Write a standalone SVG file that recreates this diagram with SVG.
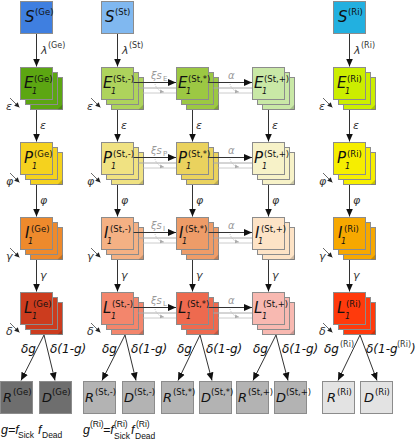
<svg xmlns="http://www.w3.org/2000/svg" width="417" height="440" viewBox="0 0 417 440">
<style>
.bx{stroke:#8c8c8c;stroke-width:1}
.lt{font-family:"DejaVu Sans",Verdana,sans-serif;font-style:italic;font-size:15px;fill:#111}
.sp{font-family:"DejaVu Sans",Verdana,sans-serif;font-size:8.5px;fill:#111}
.sb{font-family:"DejaVu Sans",Verdana,sans-serif;font-style:italic;font-size:8px;fill:#111}
.rl{font-family:"DejaVu Sans",Verdana,sans-serif;font-style:italic;font-size:13px;fill:#111}
.lb{font-family:"DejaVu Sans",Verdana,sans-serif;font-style:italic;font-size:11px;fill:#333}
.lbs{font-family:"DejaVu Sans",Verdana,sans-serif;font-size:8px;fill:#333}
.dl{font-family:"DejaVu Sans",Verdana,sans-serif;font-style:italic;font-size:12px;fill:#111}
.fm{font-family:"Liberation Sans",Arial,sans-serif;font-style:italic;font-size:12.5px;fill:#111}
.fs{font-family:"Liberation Sans",Arial,sans-serif;font-size:8.5px;fill:#111}
.gy{font-family:"DejaVu Sans",Verdana,sans-serif;font-style:italic;font-size:10px;fill:#999}
.gys{font-family:"DejaVu Sans",Verdana,sans-serif;font-size:7px;fill:#999}
.ar{stroke:#333;stroke-width:1;fill:none;marker-end:url(#ah)}
.sm{stroke:#444;stroke-width:0.8;fill:none;marker-end:url(#sh)}
.gl{stroke:#aaa;stroke-width:1;fill:none}
.gl2{stroke:#ccc;stroke-width:1;fill:none}
.gc{stroke:#aaa;stroke-width:0.7;fill:none;stroke-dasharray:1 1;marker-end:url(#gh)}
</style>
<defs>
<marker id="ah" markerUnits="userSpaceOnUse" markerWidth="8" markerHeight="8" refX="8" refY="4" orient="auto"><path d="M0,0.5 L8,4 L0,7.5 z" fill="#111"/></marker>
<marker id="sh" markerUnits="userSpaceOnUse" markerWidth="5" markerHeight="5" refX="5" refY="2.5" orient="auto"><path d="M0,0 L5,2.5 L0,5 z" fill="#222"/></marker>
<marker id="gh" markerUnits="userSpaceOnUse" markerWidth="4" markerHeight="4" refX="4" refY="2" orient="auto"><path d="M0,0 L4,2 L0,4 z" fill="#aaa"/></marker>
<g id="stk">
<rect x="10" y="10" width="32" height="32"/>
<path d="M37,42 L42,37 L42,42 z" fill="#000" fill-opacity="0.18" stroke="none"/>
<rect x="5" y="5" width="32" height="32"/>
<rect x="0" y="0" width="32" height="32"/>
</g>
</defs>
<rect width="417" height="440" fill="#fff"/>

<!-- S nodes -->
<g id="S-Ge"><rect class="bx" x="20.5" y="1.5" width="32" height="32" fill="#3f7fe0"/><text class="lt" x="25" y="22">S</text><text class="sp" x="35" y="15">(Ge)</text></g>
<g id="S-St"><rect class="bx" x="101.5" y="1.5" width="32" height="32" fill="#80b8f0"/><text class="lt" x="105" y="22">S</text><text class="sp" x="115" y="15">(St)</text></g>
<g id="S-Ri"><rect class="bx" x="333.5" y="1.5" width="32" height="32" fill="#22b0e0"/><text class="lt" x="338" y="22">S</text><text class="sp" x="348" y="15">(Ri)</text></g>

<!-- E row -->
<g id="E-Ge"><use href="#stk" class="bx" x="20.5" y="67.5" fill="#5ca612"/><text class="lt" x="24" y="88">E</text><text class="sb" x="32" y="94">1</text><text class="sp" x="34" y="82">(Ge)</text></g>
<g id="E-Stm"><use href="#stk" class="bx" x="101.5" y="67.5" fill="#aed35c"/><text class="lt" x="103" y="88">E</text><text class="sb" x="111" y="94">1</text><text class="sp" x="113" y="82">(St,-)</text></g>
<g id="E-Sts"><use href="#stk" class="bx" x="176.5" y="67.5" fill="#9cc843"/><text class="lt" x="178" y="88">E</text><text class="sb" x="186" y="94">1</text><text class="sp" x="188" y="82">(St,*)</text></g>
<g id="E-Stp"><use href="#stk" class="bx" x="252.5" y="67.5" fill="#c9e8a6"/><text class="lt" x="254" y="88">E</text><text class="sb" x="262" y="94">1</text><text class="sp" x="264" y="82">(St,+)</text></g>
<g id="E-Ri"><use href="#stk" class="bx" x="333.5" y="67.5" fill="#ccee00"/><text class="lt" x="337" y="88">E</text><text class="sb" x="345" y="94">1</text><text class="sp" x="347" y="82">(Ri)</text></g>

<!-- P row -->
<g id="P-Ge"><use href="#stk" class="bx" x="20.5" y="142.5" fill="#f5d21e"/><text class="lt" x="24" y="163">P</text><text class="sb" x="32" y="169">1</text><text class="sp" x="34" y="157">(Ge)</text></g>
<g id="P-Stm"><use href="#stk" class="bx" x="101.5" y="142.5" fill="#f0e282"/><text class="lt" x="103" y="163">P</text><text class="sb" x="111" y="169">1</text><text class="sp" x="113" y="157">(St,-)</text></g>
<g id="P-Sts"><use href="#stk" class="bx" x="176.5" y="142.5" fill="#ead25e"/><text class="lt" x="178" y="163">P</text><text class="sb" x="186" y="169">1</text><text class="sp" x="188" y="157">(St,*)</text></g>
<g id="P-Stp"><use href="#stk" class="bx" x="252.5" y="142.5" fill="#f7f2c8"/><text class="lt" x="254" y="163">P</text><text class="sb" x="262" y="169">1</text><text class="sp" x="264" y="157">(St,+)</text></g>
<g id="P-Ri"><use href="#stk" class="bx" x="333.5" y="142.5" fill="#f6ee00"/><text class="lt" x="337" y="163">P</text><text class="sb" x="345" y="169">1</text><text class="sp" x="347" y="157">(Ri)</text></g>

<!-- I row -->
<g id="I-Ge"><use href="#stk" class="bx" x="20.5" y="217.5" fill="#ee8a2c"/><text class="lt" x="25" y="238">I</text><text class="sb" x="28" y="244">1</text><text class="sp" x="31" y="232">(Ge)</text></g>
<g id="I-Stm"><use href="#stk" class="bx" x="101.5" y="217.5" fill="#f4b184"/><text class="lt" x="104" y="238">I</text><text class="sb" x="107" y="244">1</text><text class="sp" x="110" y="232">(St,-)</text></g>
<g id="I-Sts"><use href="#stk" class="bx" x="176.5" y="217.5" fill="#ee9c68"/><text class="lt" x="179" y="238">I</text><text class="sb" x="182" y="244">1</text><text class="sp" x="185" y="232">(St,*)</text></g>
<g id="I-Stp"><use href="#stk" class="bx" x="252.5" y="217.5" fill="#fde3c6"/><text class="lt" x="255" y="238">I</text><text class="sb" x="258" y="244">1</text><text class="sp" x="261" y="232">(St,+)</text></g>
<g id="I-Ri"><use href="#stk" class="bx" x="333.5" y="217.5" fill="#f7a800"/><text class="lt" x="338" y="238">I</text><text class="sb" x="341" y="244">1</text><text class="sp" x="344" y="232">(Ri)</text></g>

<!-- L row -->
<g id="L-Ge"><use href="#stk" class="bx" x="20.5" y="292.5" fill="#cc3c1e"/><text class="lt" x="24" y="313">L</text><text class="sb" x="32" y="319">1</text><text class="sp" x="33" y="307">(Ge)</text></g>
<g id="L-Stm"><use href="#stk" class="bx" x="101.5" y="292.5" fill="#f3866c"/><text class="lt" x="103" y="313">L</text><text class="sb" x="111" y="319">1</text><text class="sp" x="112" y="307">(St,-)</text></g>
<g id="L-Sts"><use href="#stk" class="bx" x="176.5" y="292.5" fill="#ee6a4f"/><text class="lt" x="178" y="313">L</text><text class="sb" x="186" y="319">1</text><text class="sp" x="187" y="307">(St,*)</text></g>
<g id="L-Stp"><use href="#stk" class="bx" x="252.5" y="292.5" fill="#f8b9b1"/><text class="lt" x="254" y="313">L</text><text class="sb" x="262" y="319">1</text><text class="sp" x="263" y="307">(St,+)</text></g>
<g id="L-Ri"><use href="#stk" class="bx" x="333.5" y="292.5" fill="#ff3a0c"/><text class="lt" x="337" y="313">L</text><text class="sb" x="345" y="319">1</text><text class="sp" x="346" y="307">(Ri)</text></g>

<!-- R / D -->
<g id="R-Ge"><rect class="bx" x="0.5" y="381.5" width="32" height="32" fill="#6e6e6e"/><text class="rl" x="3" y="402">R</text><text class="sp" x="13" y="395">(Ge)</text></g>
<g id="D-Ge"><rect class="bx" x="39.5" y="381.5" width="32" height="32" fill="#6e6e6e"/><text class="rl" x="42" y="402">D</text><text class="sp" x="52" y="395">(Ge)</text></g>
<g id="R-Stm"><rect class="bx" x="83.5" y="381.5" width="32" height="32" fill="#b3b3b3"/><text class="rl" x="85" y="402">R</text><text class="sp" x="95" y="395">(St,-)</text></g>
<g id="D-Stm"><rect class="bx" x="122.5" y="381.5" width="32" height="32" fill="#b3b3b3"/><text class="rl" x="124" y="402">D</text><text class="sp" x="134" y="395">(St,-)</text></g>
<g id="R-Sts"><rect class="bx" x="161.5" y="381.5" width="32" height="32" fill="#b3b3b3"/><text class="rl" x="163" y="402">R</text><text class="sp" x="173" y="395">(St,*)</text></g>
<g id="D-Sts"><rect class="bx" x="199.5" y="381.5" width="32" height="32" fill="#b3b3b3"/><text class="rl" x="201" y="402">D</text><text class="sp" x="211" y="395">(St,*)</text></g>
<g id="R-Stp"><rect class="bx" x="236.5" y="381.5" width="32" height="32" fill="#b3b3b3"/><text class="rl" x="238" y="402">R</text><text class="sp" x="248" y="395">(St,+)</text></g>
<g id="D-Stp"><rect class="bx" x="274.5" y="381.5" width="32" height="32" fill="#b3b3b3"/><text class="rl" x="276" y="402">D</text><text class="sp" x="286" y="395">(St,+)</text></g>
<g id="R-Ri"><rect class="bx" x="322.5" y="381.5" width="32" height="32" fill="#e3e3e3"/><text class="rl" x="327" y="402">R</text><text class="sp" x="337" y="395">(Ri)</text></g>
<g id="D-Ri"><rect class="bx" x="360.5" y="381.5" width="32" height="32" fill="#e3e3e3"/><text class="rl" x="364" y="402">D</text><text class="sp" x="375" y="395">(Ri)</text></g>

<!-- connectors -->
<g id="connectors">
<path class="ar" d="M36.5,34 V66.5"/><path class="ar" d="M117.5,34 V66.5"/><path class="ar" d="M349.5,34 V66.5"/>
<path class="ar" d="M36.5,110 V141.5"/><path class="ar" d="M36.5,185 V216.5"/><path class="ar" d="M36.5,260 V291.5"/>
<path class="ar" d="M117.5,110 V141.5"/><path class="ar" d="M117.5,185 V216.5"/><path class="ar" d="M117.5,260 V291.5"/>
<path class="ar" d="M192.5,110 V141.5"/><path class="ar" d="M192.5,185 V216.5"/><path class="ar" d="M192.5,260 V291.5"/>
<path class="ar" d="M268.5,110 V141.5"/><path class="ar" d="M268.5,185 V216.5"/><path class="ar" d="M268.5,260 V291.5"/>
<path class="ar" d="M349.5,110 V141.5"/><path class="ar" d="M349.5,185 V216.5"/><path class="ar" d="M349.5,260 V291.5"/>
<path class="sm" d="M10,98 L19.5,107.5"/><path class="sm" d="M10,173 L19.5,182.5"/><path class="sm" d="M10,248 L19.5,257.5"/><path class="sm" d="M10,323 L19.5,332.5"/>
<path class="sm" d="M91,98 L100.5,107.5"/><path class="sm" d="M91,173 L100.5,182.5"/><path class="sm" d="M91,248 L100.5,257.5"/><path class="sm" d="M91,323 L100.5,332.5"/>
<path class="sm" d="M323,98 L332.5,107.5"/><path class="sm" d="M323,173 L332.5,182.5"/><path class="sm" d="M323,248 L332.5,257.5"/><path class="sm" d="M323,323 L332.5,332.5"/>
<path class="ar" d="M133.5,82.5 H176"/><path class="gl" d="M138.5,88 H176"/><path class="gl2" d="M143.5,93 H176"/><path class="gc" d="M155,84 Q157,91 164,92"/>
<path class="ar" d="M133.5,157.5 H176"/><path class="gl" d="M138.5,163 H176"/><path class="gl2" d="M143.5,168 H176"/><path class="gc" d="M155,159 Q157,166 164,167"/>
<path class="ar" d="M133.5,232.5 H176"/><path class="gl" d="M138.5,238 H176"/><path class="gl2" d="M143.5,243 H176"/><path class="gc" d="M155,234 Q157,241 164,242"/>
<path class="ar" d="M133.5,307.5 H176"/><path class="gl" d="M138.5,313 H176"/><path class="gl2" d="M143.5,318 H176"/><path class="gc" d="M155,309 Q157,316 164,317"/>
<path class="ar" d="M208.5,82.5 H252"/><path class="gl" d="M213.5,88 H252"/><path class="gl2" d="M218.5,93 H252"/><path class="gc" d="M230,84 Q232,91 239,92"/>
<path class="ar" d="M208.5,157.5 H252"/><path class="gl" d="M213.5,163 H252"/><path class="gl2" d="M218.5,168 H252"/><path class="gc" d="M230,159 Q232,166 239,167"/>
<path class="ar" d="M208.5,232.5 H252"/><path class="gl" d="M213.5,238 H252"/><path class="gl2" d="M218.5,243 H252"/><path class="gc" d="M230,234 Q232,241 239,242"/>
<path class="ar" d="M208.5,307.5 H252"/><path class="gl" d="M213.5,313 H252"/><path class="gl2" d="M218.5,318 H252"/><path class="gc" d="M230,309 Q232,316 239,317"/>
<path class="ar" d="M44,335 L21,380.5"/><path class="ar" d="M44,335 L55,380.5"/>
<path class="ar" d="M125,335 L102,380.5"/><path class="ar" d="M125,335 L136,380.5"/>
<path class="ar" d="M200,335 L178,380.5"/><path class="ar" d="M200,335 L212,380.5"/>
<path class="ar" d="M276,335 L253,380.5"/><path class="ar" d="M276,335 L288,380.5"/>
<path class="ar" d="M360,335 L338,380.5"/><path class="ar" d="M360,335 L377,380.5"/>
</g>

<!-- connector labels -->
<g id="labels">
<text class="lb" x="41" y="54">λ</text><text class="lbs" x="48" y="48">(Ge)</text>
<text class="lb" x="122" y="54">λ</text><text class="lbs" x="129" y="48">(St)</text>
<text class="lb" x="354" y="54">λ</text><text class="lbs" x="361" y="48">(Ri)</text>
<text class="lb" x="40" y="129">ε</text><text class="lb" x="121" y="129">ε</text><text class="lb" x="196" y="129">ε</text><text class="lb" x="272" y="129">ε</text><text class="lb" x="353" y="129">ε</text>
<text class="lb" x="40" y="204">φ</text><text class="lb" x="121" y="204">φ</text><text class="lb" x="196" y="204">φ</text><text class="lb" x="272" y="204">φ</text><text class="lb" x="353" y="204">φ</text>
<text class="lb" x="40" y="279">γ</text><text class="lb" x="121" y="279">γ</text><text class="lb" x="196" y="279">γ</text><text class="lb" x="272" y="279">γ</text><text class="lb" x="353" y="279">γ</text>
<text class="lb" x="6" y="110">ε</text><text class="lb" x="87" y="110">ε</text><text class="lb" x="319" y="110">ε</text>
<text class="lb" x="6" y="185">φ</text><text class="lb" x="87" y="185">φ</text><text class="lb" x="319" y="185">φ</text>
<text class="lb" x="6" y="260">γ</text><text class="lb" x="87" y="260">γ</text><text class="lb" x="319" y="260">γ</text>
<text class="lb" x="6" y="335">δ</text><text class="lb" x="87" y="335">δ</text><text class="lb" x="319" y="335">δ</text>
<text class="gy" x="151" y="79">ξs</text><text class="gys" x="163" y="81">E</text>
<text class="gy" x="151" y="154">ξs</text><text class="gys" x="163" y="156">P</text>
<text class="gy" x="151" y="229">ξs</text><text class="gys" x="163" y="231">I</text>
<text class="gy" x="151" y="304">ξs</text><text class="gys" x="163" y="306">L</text>
<text class="gy" x="228" y="79">α</text><text class="gy" x="228" y="154">α</text><text class="gy" x="228" y="229">α</text><text class="gy" x="228" y="304">α</text>
<text class="dl" x="21" y="353">δg</text><text class="dl" x="50" y="353">δ(1-g)</text>
<text class="dl" x="102" y="353">δg</text><text class="dl" x="131" y="353">δ(1-g)</text>
<text class="dl" x="177" y="353">δg</text><text class="dl" x="206" y="353">δ(1-g)</text>
<text class="dl" x="253" y="353">δg</text><text class="dl" x="282" y="353">δ(1-g)</text>
<text class="dl" x="324" y="353">δg</text><text class="lbs" x="340" y="347">(Ri)</text>
<text class="dl" x="366" y="353">δ(1-g</text><text class="lbs" x="397" y="347">(Ri)</text><text class="dl" x="411" y="353">)</text>
</g>

<!-- formulas -->
<g id="formulas">
<text class="fm" x="1" y="434">g=f</text><text class="fs" x="18" y="438">Sick</text><text class="fm" x="38" y="434">f</text><text class="fs" x="42" y="438">Dead</text>
<text class="fm" x="83" y="434">g</text><text class="fs" x="90" y="427">(Ri)</text><text class="fm" x="103" y="434">=f</text><text class="fs" x="114" y="427">(Ri)</text><text class="fs" x="114" y="439">Sick</text><text class="fm" x="131" y="434">f</text><text class="fs" x="136" y="427">(Ri)</text><text class="fs" x="135" y="439">Dead</text>
</g>
</svg>
